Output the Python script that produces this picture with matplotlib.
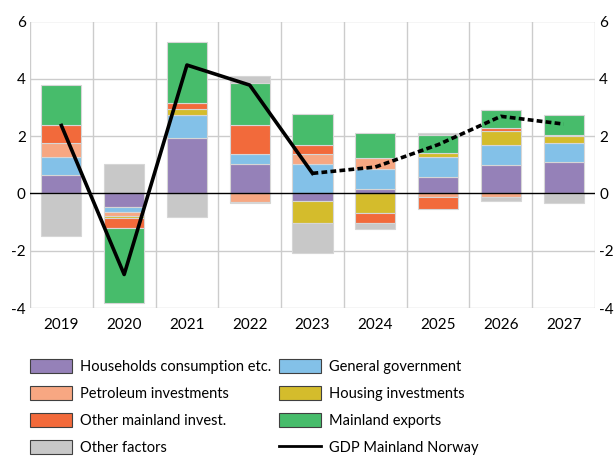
import numpy as np
import matplotlib.pyplot as plt
from matplotlib.patches import Patch
from matplotlib.lines import Line2D

plt.rcParams['font.family'] = ['Lato', 'DejaVu Sans']
plt.rcParams['axes.unicode_minus'] = False

# data (percentage points)
years = ['2019', '2020', '2021', '2022', '2023', '2024', '2025', '2026', '2027']
households = [0.64, -0.47, 1.93, 1.03, -0.27, 0.15, 0.58, 0.99, 1.08]
government = [0.64, -0.18, 0.81, 0.34, 1.02, 0.69, 0.68, 0.70, 0.68]
petroleum = [0.49, -0.15, 0.0, -0.29, 0.34, 0.40, -0.14, -0.13, -0.02]
housing = [-0.02, -0.06, 0.19, -0.06, -0.78, -0.68, 0.15, 0.49, 0.26]
other_invest = [0.60, -0.34, 0.23, 1.02, 0.32, -0.37, -0.39, 0.12, 0.03]
exports = [1.40, -2.61, 2.13, 1.45, 1.08, 0.87, 0.63, 0.62, 0.68]
other_factors = [-1.46, 1.02, -0.84, 0.26, -1.03, -0.19, 0.06, -0.13, -0.32]
gdp = [2.37, -2.83, 4.48, 3.78, 0.70, 0.92, 1.70, 2.69, 2.42]

series = [
    ('Households consumption etc.', households, '#9581b8'),
    ('General government', government, '#83c1e8'),
    ('Petroleum investments', petroleum, '#f7a782'),
    ('Housing investments', housing, '#d4bc2c'),
    ('Other mainland invest.', other_invest, '#f26a3b'),
    ('Mainland exports', exports, '#47bc6b'),
    ('Other factors', other_factors, '#c8c8c8'),
]

fig = plt.figure(figsize=(6.15, 4.58), dpi=100)
ax = fig.add_axes([30/615, 150/458, 565/615, 286.5/458])

x = np.arange(len(years))
pos = np.zeros(len(years))
neg = np.zeros(len(years))
for name, vals, col in series:
    v = np.array(vals)
    bottom = np.where(v >= 0, pos, neg)
    ax.bar(x, v, 0.64, bottom=bottom, color=col, edgecolor='#d6d6d6', linewidth=0.8, zorder=3)
    pos = pos + np.where(v >= 0, v, 0)
    neg = neg + np.where(v < 0, v, 0)

# GDP line: actual up to 2023, projections dashed
ax.plot(x[:5], gdp[:5], color='black', lw=2.6, zorder=5)
ax.plot(x[4:], gdp[4:], color='black', lw=2.6, ls=(0, (1.6, 0.9)), zorder=5)

ax.axhline(0, color='black', lw=1, zorder=4)

ax.set_xlim(-0.5, len(years) - 0.5)
ax.set_ylim(-4, 6)
ax.set_yticks([-4, -2, 0, 2, 4, 6])
ax.set_xticks(x)
ax.set_xticklabels(years)
ax.tick_params(length=0, labelsize=11, labelright=True)
ax.tick_params(axis='y', pad=3)
ax.tick_params(axis='x', pad=7)
for k in range(len(years) + 1):
    ax.axvline(k - 0.5, color='#cccccc', lw=1, zorder=1)
for yv in [-4, -2, 2, 4, 6]:
    ax.axhline(yv, color='#cccccc', lw=1, zorder=1)
for s in ax.spines.values():
    s.set_visible(False)

handles = [Patch(facecolor=c, edgecolor='#404040', linewidth=0.8) for _, _, c in series]
labels = [n for n, _, _ in series]
handles.append(Line2D([0], [0], color='black', lw=2))
labels.append('GDP Mainland Norway')
order = [0, 2, 4, 6, 1, 3, 5, 7]
fig.legend([handles[i] for i in order], [labels[i] for i in order],
           ncol=2, loc='upper left', bbox_to_anchor=(30/615, 1 - 359/458),
           frameon=False, fontsize=10.5, handlelength=2.9, handleheight=1.15,
           handletextpad=0.55, columnspacing=0.5, labelspacing=0.8,
           borderaxespad=0, borderpad=0)

fig.savefig('out.png', dpi=100)
